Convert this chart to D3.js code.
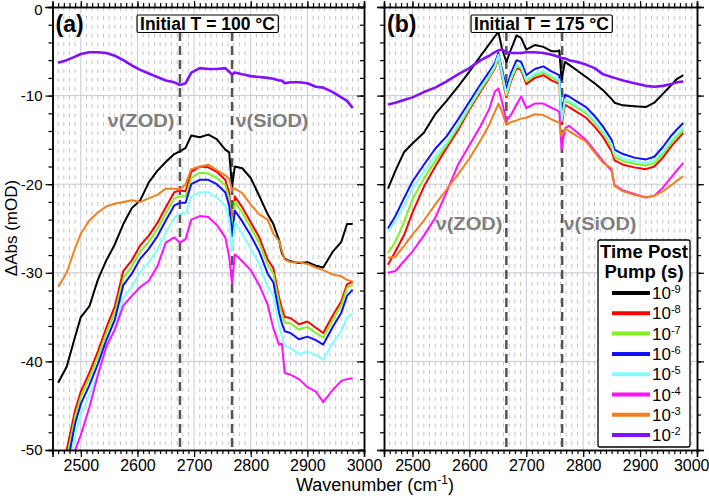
<!DOCTYPE html>
<html><head><meta charset="utf-8">
<script src="https://cdn.jsdelivr.net/npm/d3@7"></script>
<style>body{margin:0;background:#fff}svg{display:block}text{font-family:"Liberation Sans",Arial,sans-serif}</style>
</head><body><svg id="c" width="709" height="496"></svg>
<script>
// ---------- data ----------
const seriesExp = ["-9","-8","-7","-6","-5","-4","-3","-2"];
const seriesColors = ["#000000","#ff0000","#80f020","#1010ff","#80ffff","#ff10ff","#f08020","#8010ff"];
const xTicks = [2500,2600,2700,2800,2900,3000];
const yTicks = [0,-10,-20,-30,-40,-50];
const annA = [2675, 2767];
const annB = [2665, 2763];

const wnA = [2460,2475,2490,2500,2515,2530,2545,2560,2575,2590,2605,2620,2635,2650,2665,2675,2685,2695,2710,2725,2740,2755,2762,2767,2772,2785,2800,2815,2830,2840,2850,2855,2860,2870,2885,2900,2915,2928,2945,2960,2970,2980];
const aBlack = [-42.4,-40.6,-37.2,-35.0,-33.8,-30.8,-28.6,-26.8,-24.5,-22.7,-21.8,-19.8,-18.5,-17.5,-16.6,-16.3,-15.9,-14.5,-14.7,-14.4,-14.9,-16.1,-16.4,-20.3,-18.0,-18.2,-19.3,-21.3,-23.4,-24.5,-26.3,-27.8,-28.4,-28.7,-28.9,-28.8,-29.2,-29.4,-27.6,-26.5,-24.5,-24.5];
const aRed = [-56,-50,-45.5,-43.4,-41.3,-38.9,-36.2,-33.8,-29.8,-28.6,-26.9,-25.8,-24.4,-22.6,-20.9,-20.7,-20.8,-18.6,-18.0,-18.1,-18.6,-19.5,-21.0,-24.5,-21.4,-22.6,-24.3,-26.0,-28.5,-29.5,-32.8,-34.0,-35.0,-35.1,-35.8,-35.5,-36.2,-36.8,-34.8,-33.2,-31.3,-31.0];
const aGreen = [-57,-51,-46.2,-44.0,-41.9,-39.5,-36.8,-34.5,-30.6,-29.3,-27.6,-26.5,-25.1,-23.3,-21.6,-21.4,-21.4,-19.3,-18.7,-18.8,-19.3,-20.1,-21.6,-25.0,-22.0,-23.2,-24.9,-26.6,-29.1,-30.1,-33.4,-34.6,-35.6,-35.7,-36.4,-36.1,-36.8,-37.3,-35.3,-33.6,-31.7,-31.3];
const aBlue = [-58,-52,-47.0,-44.8,-42.7,-40.3,-37.6,-35.3,-31.4,-30.1,-28.4,-27.3,-25.9,-24.1,-22.4,-22.1,-22.1,-20.0,-19.5,-19.5,-20.0,-20.9,-22.4,-25.8,-23.0,-24.2,-25.8,-27.6,-30.1,-31.1,-34.5,-35.7,-36.6,-36.8,-37.5,-37.2,-37.6,-38.1,-36.1,-34.5,-32.6,-31.9];
const aCyan = [-60,-54,-48.2,-46.0,-43.8,-41.4,-38.7,-36.5,-32.8,-31.6,-29.9,-28.8,-27.4,-25.5,-23.8,-23.3,-23.3,-21.4,-20.9,-20.9,-21.5,-22.4,-24.0,-27.5,-24.3,-25.6,-27.3,-29.0,-31.6,-32.6,-36.0,-37.2,-38.2,-38.5,-39.2,-38.9,-39.3,-39.8,-37.9,-36.6,-35.0,-34.6];
const aMagenta = [-64,-57,-50.0,-48.3,-45.2,-41.6,-38.3,-36.4,-33.7,-32.6,-31.6,-30.9,-29.3,-26.6,-26.0,-26.6,-26.2,-24.0,-23.6,-23.7,-24.6,-26.0,-28.2,-31.2,-27.9,-28.7,-29.7,-31.4,-33.6,-36.3,-38.1,-38.0,-41.3,-41.5,-42.0,-42.9,-43.4,-44.6,-43.2,-42.2,-42.0,-41.9];
const aOrange = [-31.6,-30.0,-27.2,-25.6,-24.1,-23.2,-22.5,-22.2,-22.0,-21.8,-22.0,-21.6,-21.2,-20.5,-20.5,-20.6,-20.0,-18.3,-18.0,-17.8,-18.4,-19.0,-19.4,-20.7,-20.5,-21.0,-22.3,-23.4,-24.0,-25.6,-26.4,-27.5,-28.5,-28.8,-28.8,-29.0,-29.4,-29.7,-30.2,-30.4,-30.8,-31.0];
const aPurple = [-6.3,-6.0,-5.6,-5.3,-5.1,-5.1,-5.2,-5.5,-6.0,-6.6,-7.1,-7.5,-7.9,-8.3,-8.5,-8.8,-8.6,-7.4,-6.9,-7.0,-7.0,-6.9,-7.3,-7.6,-7.4,-7.6,-7.8,-7.9,-8.0,-8.1,-8.3,-8.3,-8.6,-8.5,-8.5,-8.6,-9.0,-9.1,-9.6,-10.2,-10.6,-11.4];

const wnB = [2457,2470,2485,2500,2520,2540,2560,2580,2600,2620,2635,2645,2651,2657,2665,2673,2683,2691,2700,2715,2730,2745,2755,2758,2762,2768,2775,2790,2805,2820,2835,2850,2855,2870,2890,2910,2925,2940,2955,2965,2976];
const bBlack = [-20.5,-18.5,-16.4,-15.4,-14.2,-12.1,-10.6,-9.0,-7.3,-5.5,-4.2,-3.3,-2.8,-4.6,-6.2,-4.8,-3.2,-3.5,-4.8,-4.3,-4.5,-5.0,-5.0,-4.9,-8.2,-6.2,-6.5,-7.2,-7.9,-8.6,-9.4,-10.4,-10.8,-11.1,-11.2,-11.3,-10.8,-9.8,-8.8,-8.1,-7.7];
const bRed = [-29.1,-27.6,-25.8,-23.2,-20.3,-18.0,-15.9,-13.9,-11.6,-9.5,-8.0,-6.9,-5.7,-7.7,-10.2,-8.4,-6.9,-7.1,-8.7,-8.0,-7.7,-8.3,-8.6,-8.7,-13.2,-11.0,-11.3,-11.9,-12.5,-13.5,-14.7,-16.3,-17.3,-17.8,-18.1,-18.3,-18.0,-17.0,-15.7,-15.0,-14.2];
const bGreen = [-27.8,-26.5,-24.3,-21.7,-19.4,-17.4,-15.6,-13.6,-11.4,-9.3,-7.9,-6.8,-5.6,-7.5,-10.0,-8.2,-6.7,-6.9,-8.4,-7.7,-7.4,-8.0,-8.3,-8.4,-12.9,-10.6,-10.8,-11.4,-12.0,-13.0,-14.2,-15.8,-16.9,-17.4,-17.7,-17.9,-17.6,-16.6,-15.3,-14.6,-13.9];
const bBlue = [-25.0,-23.6,-21.6,-19.7,-17.8,-16.0,-14.6,-12.7,-10.7,-8.7,-7.3,-6.3,-5.2,-7.0,-9.2,-7.5,-6.0,-6.2,-7.7,-7.0,-6.7,-7.3,-7.6,-7.7,-12.4,-9.9,-10.1,-10.7,-11.3,-12.3,-13.5,-15.0,-16.1,-16.6,-17.0,-17.2,-16.9,-15.8,-14.5,-13.8,-13.1];
const bCyan = [-25.3,-24.2,-22.4,-20.5,-18.6,-16.8,-15.3,-13.3,-11.2,-9.1,-7.7,-6.6,-5.4,-7.3,-9.8,-8.0,-6.5,-6.7,-8.2,-7.5,-7.2,-7.8,-8.1,-8.2,-12.8,-10.4,-10.6,-11.2,-11.8,-12.8,-14.0,-15.5,-16.6,-17.1,-17.4,-17.6,-17.3,-16.3,-15.0,-14.3,-13.6];
const bMagenta = [-30.0,-29.8,-28.7,-27.6,-25.8,-23.8,-20.9,-17.8,-15.6,-13.4,-11.5,-9.5,-9.2,-10.6,-12.8,-12.2,-11.0,-10.1,-11.4,-10.9,-10.9,-11.4,-11.7,-11.8,-16.1,-13.7,-13.4,-14.2,-15.0,-16.2,-17.4,-18.5,-20.1,-20.7,-21.1,-21.5,-21.3,-20.4,-19.2,-18.4,-17.6];
const bOrange = [-28.3,-28.2,-27.0,-25.7,-24.1,-22.3,-20.6,-18.9,-17.1,-15.0,-13.3,-11.8,-10.9,-11.8,-13.3,-13.0,-12.8,-12.6,-12.5,-12.1,-12.2,-12.7,-13.0,-13.0,-14.6,-13.7,-14.0,-14.6,-15.2,-16.4,-17.6,-18.2,-20.2,-20.8,-21.2,-21.5,-21.3,-20.8,-20.1,-19.6,-19.1];
const bPurple = [-11.0,-10.8,-10.5,-10.2,-9.6,-9.1,-8.4,-7.6,-6.9,-6.0,-5.5,-5.1,-4.9,-4.8,-5.1,-5.2,-5.2,-5.2,-5.1,-5.1,-5.2,-5.4,-5.6,-5.6,-5.8,-5.8,-6.0,-6.2,-6.5,-6.9,-7.6,-7.9,-8.0,-8.3,-8.6,-8.9,-9.0,-8.9,-8.7,-8.5,-8.4];

// ---------- layout ----------
const svg = d3.select("#c");
const yTop = 7, yBot = 450;
const y = d3.scaleLinear().domain([-50,0]).range([yBot, yTop]);
const panels = [
  {id:"a", x:d3.scaleLinear().domain([2450,3000]).range([52.5,364]), wn:wnA,
   series:[aBlack,aRed,aGreen,aBlue,aCyan,aMagenta,aOrange,aPurple], ann:annA,
   title:"Initial T = 100 °C", tag:"(a)", rightOut:false, tcx:207.5,
   labels:[{t:"ν(ZOD)", x:141, y:127},{t:"ν(SiOD)", x:272, y:127}]},
  {id:"b", x:d3.scaleLinear().domain([2450,3000]).range([384,697]), wn:wnB,
   series:[bBlack,bRed,bGreen,bBlue,bCyan,bMagenta,bOrange,bPurple], ann:annB,
   title:"Initial T = 175 °C", tag:"(b)", rightOut:true, tcx:541.5,
   labels:[{t:"ν(ZOD)", x:469, y:230},{t:"ν(SiOD)", x:600, y:230}]}
];
const minorX = d3.range(2450, 3001, 10);
const minorY = d3.range(-50, 1, 2);

panels.forEach(p => {
  const g = svg.append("g");
  const [x0,x1] = p.x.range();
  svg.append("clipPath").attr("id","clip"+p.id).append("rect")
    .attr("x",x0).attr("y",yTop).attr("width",x1-x0).attr("height",yBot-yTop);
  // minor grid (dashed vertical)
  g.append("g").selectAll("line").data(minorX.filter(v => v%100!==0 && v>2450 && v<3000)).join("line")
    .attr("x1",d=>p.x(d)).attr("x2",d=>p.x(d)).attr("y1",yTop).attr("y2",yBot)
    .attr("stroke","#c4c4c4").attr("stroke-width",1).attr("stroke-dasharray","4,4.86");
  // major grid
  g.append("g").selectAll("line").data(xTicks.filter(v=>v<3000)).join("line")
    .attr("x1",d=>p.x(d)).attr("x2",d=>p.x(d)).attr("y1",yTop).attr("y2",yBot)
    .attr("stroke","#c8c8d4").attr("stroke-width",1);
  g.append("g").selectAll("line").data(yTicks.filter(v=>v<0 && v>-50)).join("line")
    .attr("x1",x0).attr("x2",x1).attr("y1",d=>y(d)).attr("y2",d=>y(d))
    .attr("stroke","#c8c8d4").attr("stroke-width",1);
  // annotation dashed lines
  g.append("g").selectAll("line").data(p.ann).join("line")
    .attr("x1",d=>p.x(d)).attr("x2",d=>p.x(d)).attr("y1",32).attr("y2",yBot)
    .attr("stroke","#555").attr("stroke-width",2.5).attr("stroke-dasharray","9,5");
  // curves
  const line = d3.line().x((d,i)=>p.x(p.wn[i])).y(d=>y(d));
  const cg = g.append("g").attr("clip-path","url(#clip"+p.id+")");
  p.series.forEach((s,k) => {
    cg.append("path").datum(s).attr("d",line).attr("fill","none")
      .attr("stroke",seriesColors[k]).attr("stroke-width",k===7?2.6:2)
      .attr("stroke-linejoin","round");
  });
  // axes
  const ax = (axis, tr) => {
    const a = g.append("g").attr("transform",tr).call(axis);
    a.select(".domain").attr("stroke-width",1.5);
    a.selectAll(".tick line").attr("stroke-width",1.2);
    return a;
  };
  ax(d3.axisBottom(p.x).tickValues(minorX).tickSize(4).tickFormat(""), `translate(0,${yBot})`);
  const xb = ax(d3.axisBottom(p.x).tickValues(xTicks).tickSize(7).tickFormat(d=>String(d)), `translate(0,${yBot})`);
  xb.selectAll("text").attr("font-size",16).attr("fill","#000").attr("font-family","Liberation Sans, Arial");
  if (p.id==="b") xb.selectAll("text").filter(d=>d===3000).attr("text-anchor","end").attr("x",12);
  ax(d3.axisTop(p.x).tickValues(minorX).tickSize(4).tickFormat(""), `translate(0,${yTop})`);
  ax(d3.axisTop(p.x).tickValues(xTicks).tickSize(6).tickFormat(""), `translate(0,${yTop})`);
  ax(d3.axisLeft(y).tickValues(minorY).tickSize(4).tickFormat(""), `translate(${x0},0)`);
  const yl = ax(d3.axisLeft(y).tickValues(yTicks).tickSize(7).tickFormat(p.id==="a"?(d=>String(d)):""), `translate(${x0},0)`);
  yl.selectAll("text").attr("font-size",15).attr("fill","#000").attr("font-family","Liberation Sans, Arial");
  yl.selectAll("text").filter(d=>d===0).attr("dy","0.47em");
  const rightAxis = p.rightOut ? d3.axisRight : d3.axisLeft;
  ax(rightAxis(y).tickValues(minorY).tickSize(4).tickFormat(""), `translate(${x1},0)`);
  ax(rightAxis(y).tickValues(yTicks).tickSize(7).tickFormat(""), `translate(${x1},0)`);
  // tag
  g.append("text").attr("x",x0+3).attr("y",32).attr("font-size",23).attr("font-weight","bold").text(p.tag);
  // title box
  const tt = g.append("text").attr("x",p.tcx).attr("y",29.5).attr("text-anchor","middle")
    .attr("font-size",17.5).attr("font-weight","bold").text(p.title);
  const bb = tt.node().getBBox();
  g.insert("rect", () => tt.node()).attr("x",bb.x-3).attr("y",15).attr("width",bb.width+6).attr("height",17.5)
    .attr("fill","#fff").attr("stroke","#000").attr("stroke-width",1.2).attr("rx",1.5);
  // nu labels
  p.labels.forEach(l => {
    g.append("text").attr("x",l.x).attr("y",l.y).attr("text-anchor","middle")
      .attr("font-family","DejaVu Serif, serif").attr("font-weight","bold").attr("font-size",19)
      .attr("fill","#7f7f7f").attr("textLength",l.t.length===6?67:73).attr("lengthAdjust","spacingAndGlyphs").text(l.t);
  });
});

// axis titles
const xt = svg.append("text").attr("x",375).attr("y",491).attr("text-anchor","middle").attr("font-size",18);
xt.append("tspan").text("Wavenumber (cm");
xt.append("tspan").attr("dy",-7).attr("font-size",12).text("-1");
xt.append("tspan").attr("dy",7).text(")");
svg.append("text").attr("transform","translate(17,228) rotate(-90)").attr("text-anchor","middle")
  .attr("font-size",17).text("ΔAbs (mOD)");

// legend
const lg = svg.append("g");
lg.append("rect").attr("x",598).attr("y",240).attr("width",92).attr("height",207)
  .attr("fill","#fff").attr("stroke","#000").attr("stroke-width",1.3).attr("rx",2);
lg.append("text").attr("x",644).attr("y",258).attr("text-anchor","middle").attr("font-size",18.5).attr("font-weight","bold").text("Time Post");
lg.append("text").attr("x",644).attr("y",278).attr("text-anchor","middle").attr("font-size",18.5).attr("font-weight","bold").text("Pump (s)");
seriesExp.forEach((e,i) => {
  const cy = 293 + i*20.3;
  lg.append("line").attr("x1",612).attr("x2",650).attr("y1",cy).attr("y2",cy)
    .attr("stroke",seriesColors[i]).attr("stroke-width",4);
  const t = lg.append("text").attr("x",652).attr("y",cy+6).attr("font-size",17).text("10");
  t.append("tspan").attr("dy",-6).attr("font-size",11).text(e);
});
</script></body></html>
